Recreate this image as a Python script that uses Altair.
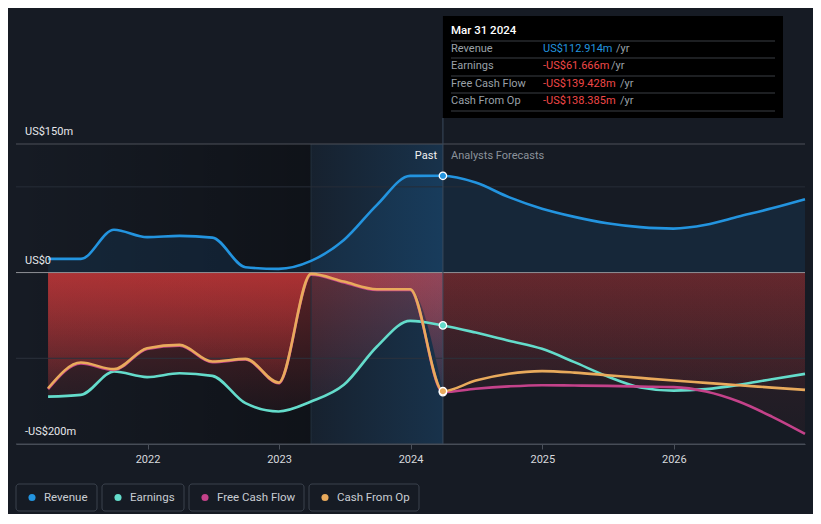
import altair as alt
import pandas as pd

# ---------------- data ----------------
past_dates = ["2021-03-31", "2021-06-30", "2021-09-30", "2021-12-31", "2022-03-31",
              "2022-06-30", "2022-09-30", "2022-12-31", "2023-03-31", "2023-06-30",
              "2023-09-30", "2023-12-31", "2024-03-31"]
fc_dates = ["2024-03-31", "2024-06-30", "2024-09-30", "2024-12-31", "2025-03-31",
            "2025-06-30", "2025-09-30", "2025-12-31", "2026-03-31", "2026-06-30",
            "2026-09-30", "2026-12-31"]

revenue_past = [16, 16, 50, 41.3, 42.8, 40.8, 6.3, 4.3, 13.6, 38, 79, 112.8, 112.914]
earnings_past = [-144.7, -142.7, -115.5, -122, -117.4, -120.5, -152.4, -162, -150.5, -131, -86.3, -56.4, -61.666]
fcf_past = [-136, -106, -113.5, -89, -85.2, -104.6, -101.5, -129.2, -2.5, -11.5, -20.3, -20.3, -139.428]
cfo_past = [-135, -105, -112.7, -88.2, -84.4, -103.8, -100.7, -128.4, -1.5, -10.5, -19.4, -19.4, -138.385]

revenue_fc = [112.914, 105, 88, 74.5, 65, 57.5, 53, 51.3, 55.7, 65.3, 75, 85.6]
earnings_fc = [-61.666, -70, -79.5, -89, -104.5, -121, -134, -137.7, -136, -131, -124.4, -118.2]
fcf_fc = [-139.428, -135.5, -132.8, -131.4, -131.8, -132.2, -133, -133.7, -138.8, -150.5, -168, -188.2]
cfo_fc = [-138.385, -126, -118, -115, -116.7, -119.7, -122.9, -126, -128.7, -131.4, -134.2, -136.9]

series_names = ["Revenue", "Earnings", "Free Cash Flow", "Cash From Op"]
series_colors = ["#2394df", "#64dccb", "#c4428a", "#e9aa5c"]
now_date = "2024-03-31"
band_start = "2023-03-31"
tick_years = [2022, 2023, 2024, 2025, 2026]
grid_values = [150, 100, 0, -100, -200]
grid_colors = ["#4c5058", "#272d38", "#8e9196", "#2c323d", "#454b55"]
ylabel_values = [150, 0, -200]
ylabel_texts = ["US$150m", "US$0", "-US$200m"]

# ---------------- tables ----------------
rows = []
for name, p, f in zip(series_names,
                      [revenue_past, earnings_past, fcf_past, cfo_past],
                      [revenue_fc, earnings_fc, fcf_fc, cfo_fc]):
    for d, v in zip(past_dates, p):
        rows.append({"date": d, "series": name, "value": v, "phase": "past"})
    for d, v in zip(fc_dates[1:], f[1:]):
        rows.append({"date": d, "series": name, "value": v, "phase": "fc"})
df = pd.DataFrame(rows)
df["date"] = pd.to_datetime(df["date"])

past_df = df[df["date"] <= pd.Timestamp(now_date)]
fc_df = df[df["date"] >= pd.Timestamp(now_date)]
neg_past = past_df[past_df["series"] != "Revenue"]
neg_fc = fc_df[fc_df["series"] != "Revenue"]
rev_df = df[df["series"] == "Revenue"]

now_vals = {"Revenue": revenue_past[-1], "Earnings": earnings_past[-1],
            "Free Cash Flow": fcf_past[-1], "Cash From Op": cfo_past[-1]}
pts = pd.DataFrame({"date": pd.to_datetime([now_date] * 4),
                    "series": ["Revenue", "Earnings", "Free Cash Flow", "Cash From Op"],
                    "value": [now_vals[k] for k in ["Revenue", "Earnings", "Free Cash Flow", "Cash From Op"]]})

W, H = 789, 300
FONT = "Roboto"

x_enc = alt.X("date:T",
              scale=alt.Scale(domain=[alt.DateTime(year=2021, month=1, date=1),
                                      alt.DateTime(year=2026, month=12, date=31)]),
              axis=alt.Axis(values=[alt.DateTime(year=y, month=1, date=1) for y in tick_years],
                            format="%Y", title=None, grid=False, domainColor="#4a505a",
                            tickColor="#4a505a", tickSize=5, labelColor="#d6d9dd",
                            labelFontSize=11, labelFont=FONT, labelPadding=4))
y_scale = alt.Scale(domain=[-200, 150], nice=False, zero=False)
y_enc = alt.Y("value:Q", scale=y_scale, axis=None)
col_scale = alt.Scale(domain=series_names, range=series_colors)

# backgrounds
bg_df = pd.DataFrame({"date": pd.to_datetime(["2021-01-01"]), "date2": pd.to_datetime([band_start]),
                      "value": [150], "value2": [-200]})
dark_bg = alt.Chart(bg_df).mark_rect(
    fill=alt.LinearGradient(gradient="linear", x1=0, x2=1, y1=0, y2=0,
                            stops=[alt.GradientStop(color="rgba(0,0,0,0.0)", offset=0),
                                   alt.GradientStop(color="rgba(0,0,0,0.32)", offset=1)])
).encode(x=x_enc, x2="date2:T", y=y_enc, y2="value2:Q")

band_df = pd.DataFrame({"date": pd.to_datetime([band_start]), "date2": pd.to_datetime([now_date]),
                        "value": [150], "value2": [-200]})
band = alt.Chart(band_df).mark_rect(
    fill=alt.LinearGradient(gradient="linear", x1=0, x2=1, y1=0, y2=0,
                            stops=[alt.GradientStop(color="rgba(33,150,243,0.05)", offset=0),
                                   alt.GradientStop(color="rgba(33,150,243,0.19)", offset=1)])
).encode(x=x_enc, x2="date2:T", y=y_enc, y2="value2:Q")

band_edge = alt.Chart(band_df).mark_rule(color="#22303e", strokeWidth=1).encode(
    x=x_enc, y=alt.value(0), y2=alt.value(H))

rev_area = alt.Chart(rev_df).mark_area(interpolate="monotone", color="#2196f3", opacity=0.1).encode(
    x=x_enc, y=y_enc, y2=alt.datum(0))

red_past = alt.Chart(neg_past).mark_area(
    interpolate="monotone",
    fill=alt.LinearGradient(gradient="linear", x1=0, x2=0, y1=0, y2=1,
                            stops=[alt.GradientStop(color="rgba(226,60,60,0.36)", offset=0),
                                   alt.GradientStop(color="rgba(226,60,60,0.06)", offset=1)])
).encode(x=x_enc, y=y_enc, y2=alt.datum(0), detail="series:N")

red_fc = alt.Chart(neg_fc).mark_area(
    interpolate="monotone",
    fill=alt.LinearGradient(gradient="linear", x1=0, x2=0, y1=0, y2=1,
                            stops=[alt.GradientStop(color="rgba(226,60,60,0.15)", offset=0),
                                   alt.GradientStop(color="rgba(226,60,60,0.04)", offset=1)])
).encode(x=x_enc, y=y_enc, y2=alt.datum(0), detail="series:N")

grid_df = pd.DataFrame({"value": grid_values, "col": grid_colors})
grid = alt.Chart(grid_df).mark_rule(strokeWidth=1).encode(
    x=alt.value(0), x2=alt.value(W), y=y_enc, stroke=alt.Stroke("col:N", scale=None))

lines = alt.Chart(df).mark_line(interpolate="monotone", strokeWidth=2.6).encode(
    x=x_enc, y=y_enc, color=alt.Color("series:N", scale=col_scale, legend=None),
    detail="series:N")

now_df = pd.DataFrame({"date": pd.to_datetime([now_date])})
now_rule = alt.Chart(now_df).mark_rule(color="#3a4a5c", strokeWidth=1).encode(
    x=x_enc, y=alt.value(-26), y2=alt.value(H))

points = alt.Chart(pts).mark_point(filled=True, size=55, opacity=1, stroke="white",
                                   strokeWidth=1.3).encode(
    x=x_enc, y=y_enc, fill=alt.Fill("series:N", scale=col_scale, legend=None))

layers = [dark_bg, rev_area, red_past, red_fc, band, band_edge, grid, lines, now_rule, points]

# y labels (through y scale)
ylab_df = pd.DataFrame({"value": ylabel_values, "t": ylabel_texts})
layers.append(alt.Chart(ylab_df).mark_text(align="left", baseline="middle", dy=-12, fontSize=11,
                                           font=FONT, color="#e6e8eb").encode(
    x=alt.value(9), y=y_enc, text="t:N"))


def label(text, x, y, color, size=11, align="left", weight="normal"):
    return alt.Chart(pd.DataFrame({"t": [text]})).mark_text(
        align=align, baseline="middle", fontSize=size, font=FONT, color=color,
        fontWeight=weight).encode(x=alt.value(x), y=alt.value(y), text="t:N")


# Past / forecast labels
layers.append(label("Past", 421, 12, "#f2f2f2", align="right"))
layers.append(label("Analysts Forecasts", 435, 12, "#8b929b"))

# tooltip box
tip = alt.Chart(now_df).mark_rect(fill="#000000").encode(
    x=x_enc, x2=alt.value(767), y=alt.value(-128), y2=alt.value(-26))
layers.append(tip)
layers.append(label("Mar 31 2024", 435, -113, "#ffffff", size=11.5, weight=500))
sep_y = [-103, -86, -68, -51, -33]
for sy in sep_y:
    layers.append(alt.Chart(pd.DataFrame({"a": [0]})).mark_rule(color="#3b3f45", strokeWidth=1).encode(
        x=alt.value(435), x2=alt.value(759), y=alt.value(sy)))
row_y = [-95, -78, -60, -43]
val_texts = [f"US${revenue_past[-1]:.3f}m", f"-US${abs(earnings_past[-1]):.3f}m",
             f"-US${abs(fcf_past[-1]):.3f}m", f"-US${abs(cfo_past[-1]):.3f}m"]
val_colors = ["#2394df", "#f04848", "#f04848", "#f04848"]
yr_x = [600, 595, 604, 604]
for name, ry, vt, vc, yx in zip(series_names, row_y, val_texts, val_colors, yr_x):
    layers.append(label(name, 435, ry, "#9aa0a8"))
    layers.append(label(vt, 527, ry, vc))
    layers.append(label("/yr", yx, ry, "#9aa0a8"))

# legend
box_x = [(0, 81), (86, 168), (173, 288), (293, 403)]
dot_x = [16, 102, 189, 309]
txt_x = [28, 114, 201, 321]
for name, col, (bx1, bx2), dx, tx in zip(series_names, series_colors, box_x, dot_x, txt_x):
    layers.append(alt.Chart(pd.DataFrame({"a": [0]})).mark_rect(
        filled=False, stroke="#3b424d", strokeWidth=1, cornerRadius=3).encode(
        x=alt.value(bx1), x2=alt.value(bx2), y=alt.value(340), y2=alt.value(367)))
    layers.append(alt.Chart(pd.DataFrame({"a": [0]})).mark_circle(size=50, color=col, opacity=1).encode(
        x=alt.value(dx), y=alt.value(353.5)))
    layers.append(label(name, tx, 353.5, "#c9cdd3", size=11.5))

chart = alt.layer(*layers).properties(
    width=W, height=H,
    autosize=alt.AutoSizeParams(type="none"),
    padding={"left": 8, "top": 136, "right": 8, "bottom": 70},
    background="#161b24",
).configure_view(stroke=None)

chart.save("out.html", embed_options={"renderer": "svg", "actions": False})
